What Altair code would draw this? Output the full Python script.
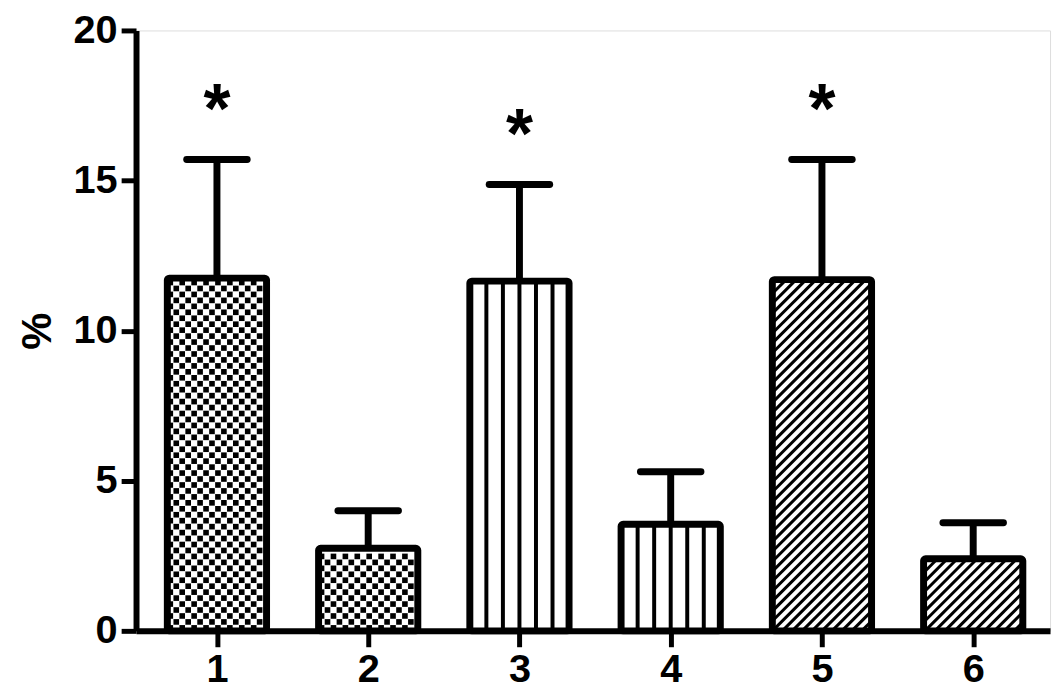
import altair as alt
import pandas as pd

# ---- data ----
categories = ["1", "2", "3", "4", "5", "6"]
positions = [1, 2, 3, 4, 5, 6]
means = [11.75, 2.75, 11.65, 3.55, 11.70, 2.40]
upper_err = [3.95, 1.25, 3.22, 1.75, 4.00, 1.20]
patterns = ["dots", "dots", "vlines", "vlines", "diag", "diag"]
stars = ["*", "", "*", "", "*", ""]

# ---- layout constants ----
W, H = 921, 605
X0, X1 = 0.465, 6.508
Y0, Y1 = 0, 20
XPX = W / (X1 - X0)
YPX = H / (Y1 - Y0)
HALF = 0.328
CAP = 0.2
FONT = "Liberation Sans"

df = pd.DataFrame({
    "cat": categories, "pos": positions, "mean": means,
    "err": upper_err, "pattern": patterns, "star": stars,
})

xs = alt.Scale(domain=[X0, X1], nice=False, zero=False)
ys = alt.Scale(domain=[Y0, Y1], nice=False)

base = alt.Chart(df).transform_calculate(
    lo=f"datum.pos - {HALF}",
    hi=f"datum.pos + {HALF}",
    top="datum.mean + datum.err",
    zero="0",
    capl=f"datum.pos - {CAP}",
    capr=f"datum.pos + {CAP}",
    wpx=f"{2 * HALF} * {XPX}",
    hpx=f"datum.mean * {YPX}",
)

xaxis = alt.Axis(values=positions, labelExpr="datum.value", title=None,
                 labelFontSize=40, labelFontWeight="bold", labelFont=FONT,
                 labelColor="black", tickSize=16, tickWidth=5, tickColor="black",
                 domainWidth=6, domainColor="black", labelPadding=3, grid=False)
yaxis = alt.Axis(values=[0, 5, 10, 15, 20], title="%", titleFontSize=42,
                 titleFont=FONT, titleFontWeight="bold", titleColor="black",
                 titlePadding=14, labelFontSize=40, labelFontWeight="bold",
                 labelFont=FONT, labelColor="black", tickSize=15, tickWidth=5,
                 tickColor="black", domainWidth=6, domainColor="black",
                 labelPadding=4, grid=False)

fill = base.mark_rect(fill="white").encode(
    x=alt.X("lo:Q", scale=xs, axis=xaxis), x2="hi:Q",
    y=alt.Y("zero:Q", scale=ys, axis=yaxis), y2="mean:Q",
)

# vertical hatch
vl = base.transform_filter("datum.pattern == 'vlines'").transform_calculate(
    k="sequence(1, 6)"
).transform_flatten(["k"]).transform_calculate(
    xv="datum.lo + datum.k * (datum.hi - datum.lo) / 6"
).mark_rule(color="black", strokeWidth=4).encode(
    x=alt.X("xv:Q", scale=xs), y=alt.Y("zero:Q", scale=ys), y2="mean:Q"
)

# diagonal hatch
S = 10
dg = base.transform_filter("datum.pattern == 'diag'").transform_calculate(
    c=f"sequence(-datum.hpx + 4, datum.wpx, {S})"
).transform_flatten(["c"]).transform_calculate(
    u0="max(datum.c, 0)",
    u1="min(datum.wpx, datum.c + datum.hpx)",
).transform_calculate(
    xa=f"datum.lo + datum.u0 / {XPX}",
    ya=f"(datum.u0 - datum.c) / {YPX}",
    xb=f"datum.lo + datum.u1 / {XPX}",
    yb=f"(datum.u1 - datum.c) / {YPX}",
).mark_rule(color="black", strokeWidth=3).encode(
    x=alt.X("xa:Q", scale=xs), y=alt.Y("ya:Q", scale=ys), x2="xb:Q", y2="yb:Q"
)

# dotted (checker) fill
G = 6
dots = base.transform_filter("datum.pattern == 'dots'").transform_calculate(
    col=f"sequence(0, floor(datum.wpx / {G}))"
).transform_flatten(["col"]).transform_calculate(
    row=f"sequence(0, floor(datum.hpx / {G}))"
).transform_flatten(["row"]).transform_filter(
    "(datum.col + datum.row) % 2 == 0"
).transform_calculate(
    dx=f"datum.lo + (datum.col * {G} + {G / 2}) / {XPX}",
    dy=f"(datum.row * {G} + {G / 2}) / {YPX}",
).mark_square(color="black", size=32, opacity=1).encode(
    x=alt.X("dx:Q", scale=xs), y=alt.Y("dy:Q", scale=ys)
)

outline = base.mark_rect(fill="transparent", stroke="black", strokeWidth=7,
                         strokeJoin="round", cornerRadius=2).encode(
    x=alt.X("lo:Q", scale=xs), x2="hi:Q",
    y=alt.Y("zero:Q", scale=ys), y2="mean:Q",
)

stem = base.mark_rule(color="black", strokeWidth=7).encode(
    x=alt.X("pos:Q", scale=xs), y=alt.Y("mean:Q", scale=ys), y2="top:Q"
)
cap = base.mark_rule(color="black", strokeWidth=7, strokeCap="round").encode(
    x=alt.X("capl:Q", scale=xs), x2="capr:Q", y=alt.Y("top:Q", scale=ys)
)

star = base.transform_filter("datum.star != ''").mark_text(
    fontSize=70, fontWeight="bold", font=FONT, color="black", dy=-48
).encode(x=alt.X("pos:Q", scale=xs), y=alt.Y("top:Q", scale=ys), text="star:N")

chart = alt.layer(fill, vl, dg, dots, outline, stem, cap, star).properties(
    width=W, height=H,
    padding={"left": 8, "top": 0, "right": 5, "bottom": 0},
).configure_view(stroke=None).configure(background="white")

chart.save("out.html", embed_options={"renderer": "svg", "actions": False})
